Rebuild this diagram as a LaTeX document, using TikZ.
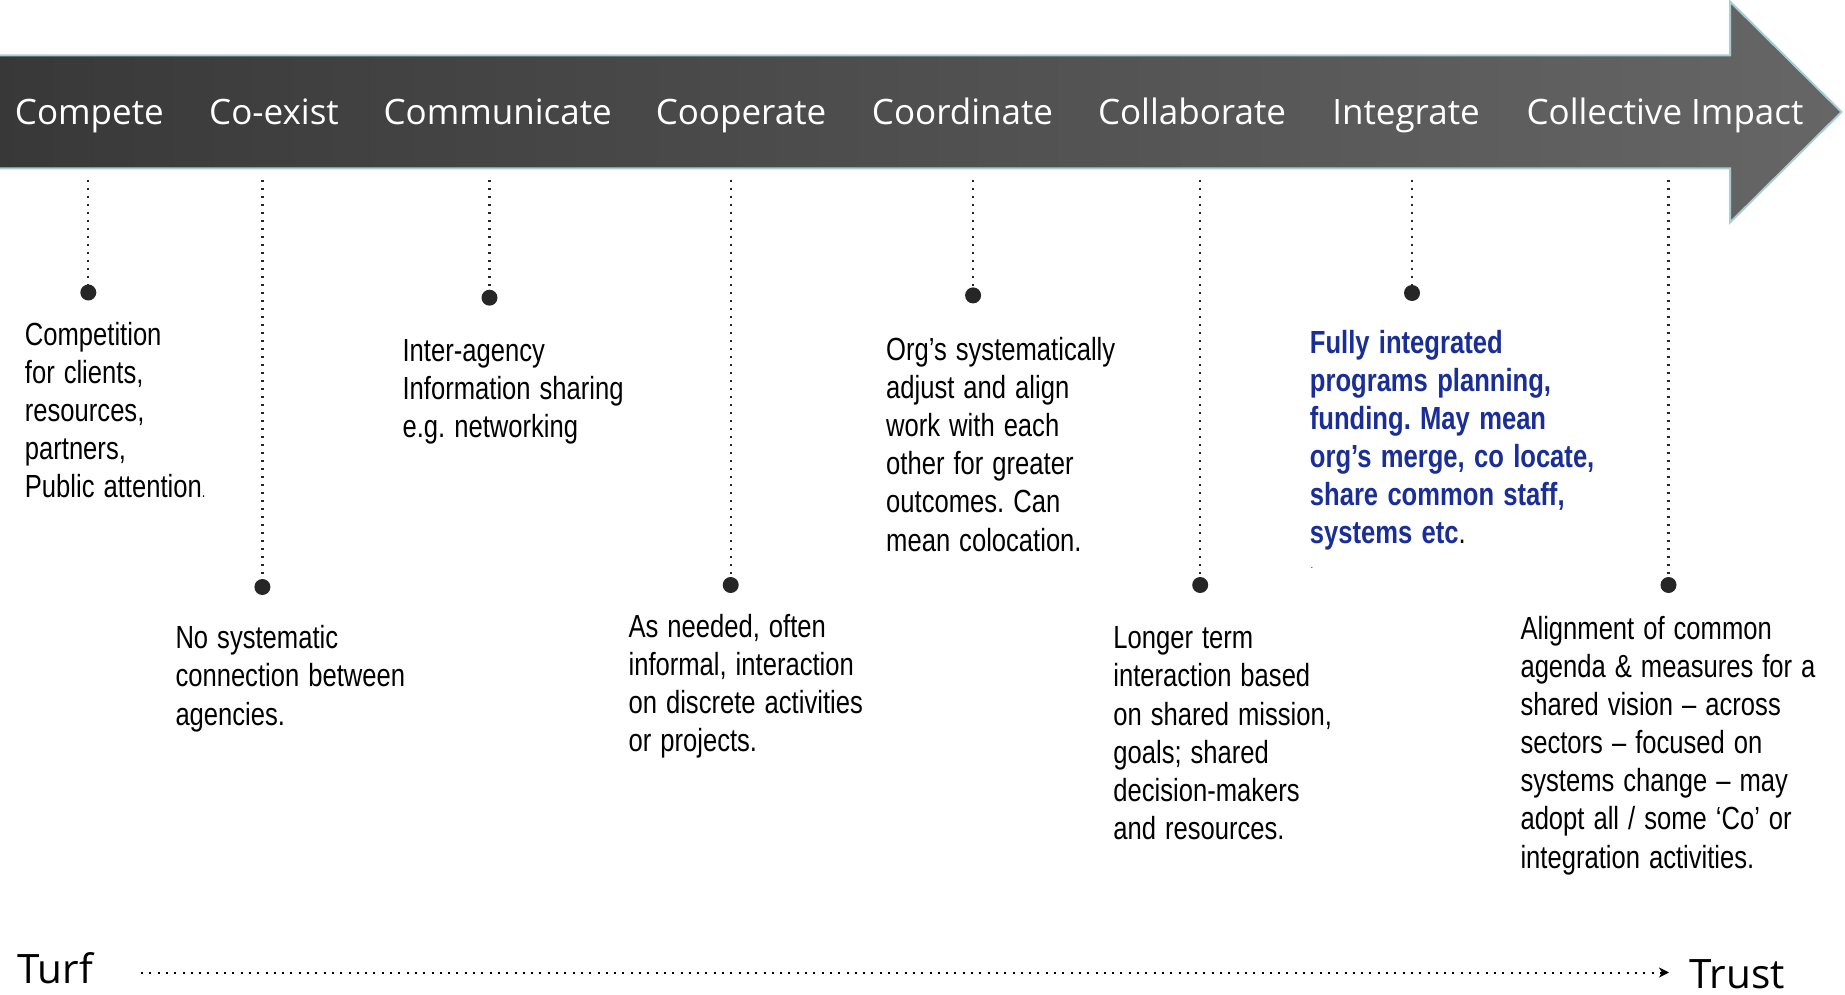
\documentclass[tikz,border=0pt]{standalone}
\usepackage{fontspec}
\setmainfont{Liberation Sans}[FakeStretch=0.80]
\newfontfamily\headfont{Open Sans}
\usetikzlibrary{arrows.meta}
\definecolor{outl}{HTML}{A9CDD6}
\definecolor{bluetxt}{HTML}{1A2E98}
\definecolor{dotc}{HTML}{262626}
\newcommand{\tightsp}{\spaceskip=9pt\relax}
\newcommand{\tightbsp}{\spaceskip=9.3pt\relax}
\tikzset{
  x=1pt, y=-1pt,
  headlbl/.style={anchor=base, inner sep=0, text=white, font=\headfont\fontsize{35}{40}\selectfont},
  desc/.style={anchor=base west, inner sep=0, align=left, text width=320pt, font=\fontsize{32}{38.1}\selectfont, execute at begin node=\tightsp},
  dotnode/.style={circle, fill=dotc, inner sep=0, minimum size=16pt},
  vline/.style={draw=dotc, line width=2.2pt, dash pattern=on 2.2pt off 5.8pt},
  endlbl/.style={inner sep=0, font=\headfont\fontsize{40.5}{45}\selectfont},
  hline/.style={draw=black, line width=2pt, dash pattern=on 2pt off 6.3pt, -{Stealth[length=10pt,width=10pt,inset=3pt]}}
}
\frenchspacing
\begin{document}
\begin{tikzpicture}
\useasboundingbox[fill=white] (0,0) rectangle (1845,995);
% big arrow
\shade[left color=black!78, right color=black!60, draw=outl, line width=2pt]
  (-3,55.3) -- (1730,55.3) -- (1730,1.5) -- (1841.5,112) -- (1730,222.5) -- (1730,168.3) -- (-3,168.3) -- cycle;
% header labels
\node[headlbl] (h1) at (89.4,124.5) {Compete};
\node[headlbl] (h2) at (274,124.5) {Co-exist};
\node[headlbl] (h3) at (497.7,124.5) {Communicate};
\node[headlbl] (h4) at (741,124.5) {Cooperate};
\node[headlbl] (h5) at (962.5,124.5) {Coordinate};
\node[headlbl] (h6) at (1192,124.5) {Collaborate};
\node[headlbl] (h7) at (1406,124.5) {Integrate};
\node[headlbl] (h8) at (1665,124.5) {Collective Impact};
% line tops
\coordinate (t1) at (88.3,180);
\coordinate (t2) at (262.4,180);
\coordinate (t3) at (489.5,180);
\coordinate (t4) at (730.7,180);
\coordinate (t5) at (973.1,180);
\coordinate (t6) at (1200.2,180);
\coordinate (t7) at (1412,180);
\coordinate (t8) at (1668.5,180);
% dots
\node[dotnode] (d1) at (88.3,292.5) {};
\node[dotnode] (d2) at (262.4,587) {};
\node[dotnode] (d3) at (489.5,297.7) {};
\node[dotnode] (d4) at (730.7,585) {};
\node[dotnode] (d5) at (973.1,295.4) {};
\node[dotnode] (d6) at (1200.2,585) {};
\node[dotnode] (d7) at (1412,293) {};
\node[dotnode] (d8) at (1668.5,585) {};
\foreach \i in {1,...,8} { \draw[vline] (t\i) -- (d\i.north); }
% descriptions
\node[desc] (x1) at (24.7,345.2) {Competition\\for clients,\\resources,\\partners,\\Public attention{\fontsize{16}{16}\selectfont.}};
\node[desc] (x2) at (175.3,648.8) {No systematic\\connection between\\agencies.};
\node[desc] (x3) at (402.4,361.7) {Inter-agency\\Information sharing\\e.g. networking};
\node[desc] (x4) at (628.4,637) {As needed, often\\informal, interaction\\on discrete activities\\or projects.};
\node[desc] (x5) at (886,360.5) {Org’s systematically\\adjust and align\\work with each\\other for greater\\outcomes. Can\\mean colocation.};
\node[desc] (x6) at (1113.2,648.8) {Longer term\\interaction based\\on shared mission,\\goals; shared\\decision-makers\\and resources.};
\node[desc, text=bluetxt, font=\bfseries\fontsize{32}{38.1}\selectfont, execute at begin node=\tightbsp] (x7) at (1309.7,353.4) {Fully integrated\\programs planning,\\funding. May mean\\org’s merge, co locate,\\share common staff,\\systems etc{\mdseries\textcolor{black}{.}}};
\node[inner sep=0, font=\fontsize{10}{10}\selectfont] (x7b) at (1312,568) {.};
\node[desc] (x8) at (1520.3,639.4) {Alignment of common\\agenda \& measures for a\\shared vision – across\\sectors – focused on\\systems change – may\\adopt all / some ‘Co’ or\\integration activities.};
% turf -> trust
\node[endlbl] (turf) at (55,968.4) {Turf};
\node[endlbl] (trust) at (1737,974.3) {Trust};
\coordinate (ls) at (141,972.5);
\coordinate (le) at (1669,972.5);
\draw[hline] (ls) -- (le);
\end{tikzpicture}
\end{document}
